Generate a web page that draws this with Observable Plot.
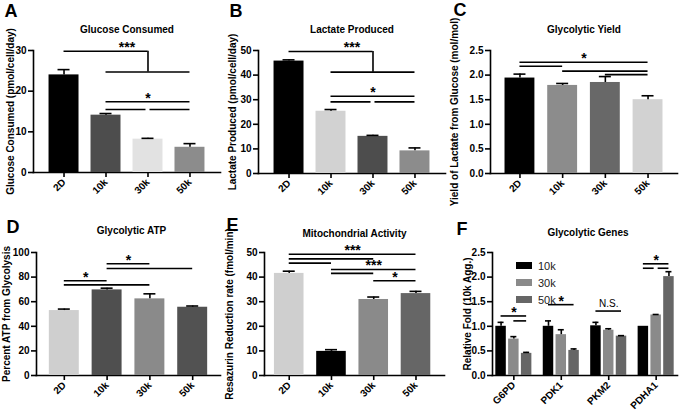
<!DOCTYPE html>
<html><head><meta charset="utf-8">
<script src="https://cdn.jsdelivr.net/npm/d3@7"></script>
<script src="https://cdn.jsdelivr.net/npm/@observablehq/plot@0.6"></script>
<style>
html,body{margin:0;padding:0;background:#fff;}
#fig{position:relative;width:680px;height:412px;overflow:hidden;font-family:"Liberation Sans",Arial,sans-serif;}
.panel{position:absolute;}
.panel svg line,.panel svg path{stroke-width:1.6px;}
#legF{position:absolute;}
#legF [class$="-swatch"]{padding-bottom:0 !important;margin:0 !important;height:17px;display:flex;align-items:center;}
#legF svg{margin-right:6px !important;}
</style></head><body><div id="fig"></div>
<script>
// ---------- data ----------
const cats = ["2D", "10k", "30k", "50k"];

// A: Glucose Consumed
const glucoseMean = [24.0, 14.1, 8.2, 6.2];
const glucoseErr  = [1.3, 0.4, 0.2, 0.9];
const glucoseLines = [["2D","30k",29.8], ["10k","50k",24.7], ["10k","50k",17.4]];
const glucoseSplits = [["10k","30k","50k",15.5]];
const glucoseDrops = [["30k",24.7,29.8]];
const glucoseStars = [["2D","50k",29.8,"***"], ["10k","50k",17.4,"*"]];
const glucoseTicks = [0,10,20,30];

// B: Lactate Produced
const lactateMean = [45.7, 25.3, 15.1, 9.2];
const lactateErr  = [0.5, 0.7, 0.4, 1.2];
const lactateLines = [["2D","30k",49.6], ["10k","50k",41.2], ["10k","50k",31.4]];
const lactateSplits = [["10k","30k","50k",29.1]];
const lactateDrops = [["30k",41.2,49.6]];
const lactateStars = [["2D","50k",49.6,"***"], ["10k","50k",31.4,"*"]];
const lactateTicks = [0,10,20,30,40,50];

// C: Glycolytic Yield
const yieldMean = [1.94, 1.79, 1.85, 1.50];
const yieldErr  = [0.08, 0.04, 0.12, 0.08];
const yieldLines = [["2D","50k",2.26], ["2D","10k",2.18], ["10k","50k",2.08], ["30k","50k",2.01]];
const yieldStars = [["2D","50k",2.26,"*"]];
const yieldTicks = [0,0.5,1.0,1.5,2.0,2.5];

// D: Glycolytic ATP
const atpMean = [52.8, 69.6, 62.3, 55.5];
const atpErr  = [1.2, 1.4, 4.1, 1.0];
const atpLines = [["10k","30k",90.8], ["10k","50k",87.0], ["2D","10k",77.0], ["2D","30k",73.7]];
const atpStars = [["10k","30k",90.8,"*"], ["2D","10k",77.0,"*"]];
const atpTicks = [0,20,40,60,80,100];

// E: Mitochondrial Activity
const mitoMean = [41.5, 9.8, 30.9, 33.3];
const mitoErr  = [0.9, 0.7, 1.0, 0.9];
const mitoLines = [["2D","50k",49.3], ["2D","30k",47.4], ["2D","10k",45.7], ["10k","50k",43.1], ["10k","30k",41.5], ["30k","50k",38.5]];
const mitoStars = [["2D","50k",49.3,"***"], ["10k","50k",43.1,"***"], ["30k","50k",38.5,"*"]];
const mitoTicks = [0,10,20,30,40,50];

// F: Glycolytic Genes
const genes = ["G6PD", "PDK1", "PKM2", "PDHA1"];
const geneSeries = ["10k", "30k", "50k"];
const fold10k = [1.00, 1.00, 1.01, 1.00];
const fold30k = [0.74, 0.83, 0.92, 1.23];
const fold50k = [0.45, 0.51, 0.80, 2.01];
const err10k  = [0.08, 0.11, 0.07, 0.00];
const err30k  = [0.05, 0.10, 0.03, 0.01];
const err50k  = [0.02, 0.03, 0.01, 0.10];
const geneLines = [["G6PD","10k","50k",1.21], ["G6PD","30k","50k",1.11], ["PDK1","10k","50k",1.44], ["PKM2","10k","50k",1.31], ["PDHA1","10k","50k",2.27]];
const geneSplits = [["PDHA1","10k","30k","50k",2.18]];
const geneStars = [["G6PD","10k","50k",1.21,"*"], ["PDK1","10k","50k",1.44,"*"], ["PKM2","10k","50k",1.31,"N.S."], ["PDHA1","10k","50k",2.27,"*"]];
const foldTicks = [0,0.5,1.0,1.5,2.0,2.5];

// ---------- styles ----------
const colorsA = ["#000000", "#4d4d4d", "#e2e2e2", "#8c8c8c"];
const colorsB = ["#000000", "#d2d2d2", "#4d4d4d", "#8c8c8c"];
const colorsC = ["#000000", "#8c8c8c", "#686868", "#d2d2d2"];
const colorsD = ["#cfcfcf", "#4f4f4f", "#8a8a8a", "#525252"];
const colorsE = ["#cfcfcf", "#000000", "#8a8a8a", "#666666"];
const colorsF = ["#000000", "#8a8a8a", "#666666"];

const FONT = '"Liberation Sans", Arial, Helvetica, sans-serif';
const CAP = 6, CAPF = 3, GAP = 2;

function starOpts(t) {
  return t === "N.S."
    ? {fontSize: 10, fontWeight: "normal", lineAnchor: "middle", dy: -7.5}
    : {fontSize: 14, fontWeight: "bold", lineAnchor: "middle", dy: -3.5};
}

function commonMarks(c) {
  return [
    Plot.text([c.title], {text: d => d, frameAnchor: "top", dy: c.titleDy, dx: c.titleDx || 0, lineAnchor: "middle", fontSize: 10}),
    Plot.text([c.letter], {text: d => d, frameAnchor: "top-left", textAnchor: "start", lineAnchor: "top", dx: c.letterDx, dy: c.letterDy, fontSize: 18}),
    Plot.text([c.ylabel], {text: d => d, frameAnchor: "left", rotate: -90, textAnchor: "middle", lineAnchor: "middle", dx: c.ylabelDx, fontSize: c.ylabelSize || 10})
  ];
}

function plotOpts(c, xDomain, marks, extra = {}) {
  return Plot.plot({
    width: c.width, height: c.height,
    marginLeft: c.ml, marginRight: c.mr, marginTop: c.mt, marginBottom: c.mb,
    style: {fontFamily: FONT, fontSize: "10px", fontWeight: "bold", overflow: "visible", background: "transparent", color: "#000"},
    x: {type: "band", domain: xDomain, paddingInner: c.pi, paddingOuter: c.po, align: c.align ?? 0.5, round: false,
        label: null, tickSize: 5, tickPadding: 3, tickRotate: -45, line: true},
    y: {domain: c.yDomain, ticks: c.yTicks, tickFormat: c.yFmt, tickSize: 5, tickPadding: 2, label: null, line: true, nice: false},
    ...extra,
    marks
  });
}

function barPanel(c) {
  const xs = d3.scaleBand(c.cats, [c.ml, c.width - c.mr]).paddingInner(c.pi).paddingOuter(c.po).align(c.align ?? 0.5);
  const bw = xs.bandwidth(), step = xs.step();
  const pos = k => c.cats.indexOf(k);
  const rows = c.cats.map((k, i) => ({cat: k, v: c.values[i], e: c.errs[i]}));
  const er = rows.filter(d => d.e > 0);
  const segs = c.lines.map(([a, b, y]) => ({a, b, y}));
  const leftParts = (c.splits || []).map(([a, m, b, y]) => ({a, b: m, y}));
  const rightParts = (c.splits || []).map(([a, m, b, y]) => ({a: m, b, y}));
  const drops = (c.drops || []).map(([at, y1, y2]) => ({at, y1, y2}));
  const marks = [
    Plot.barY(rows, {x: "cat", y: "v", fill: "cat"}),
    Plot.ruleX(er, {x: "cat", y1: "v", y2: d => d.v + d.e}),
    Plot.ruleY(er, {x1: "cat", x2: "cat", y: d => d.v + d.e, insetLeft: bw / 2 - CAP, insetRight: bw / 2 - CAP}),
    Plot.ruleY(segs, {x1: "a", x2: "b", y: "y", insetLeft: bw / 2, insetRight: bw / 2}),
    Plot.ruleY(leftParts, {x1: "a", x2: "b", y: "y", insetLeft: bw / 2, insetRight: bw / 2 + GAP}),
    Plot.ruleY(rightParts, {x1: "a", x2: "b", y: "y", insetLeft: bw / 2 + GAP, insetRight: bw / 2}),
    Plot.ruleX(drops, {x: "at", y1: "y1", y2: "y2"}),
    ...c.stars.map(([a, b, y, t]) => Plot.text([{a, y, t}], {x: "a", y: "y", text: "t", dx: (pos(b) - pos(a)) * step / 2, ...starOpts(t)})),
    ...commonMarks(c)
  ];
  return plotOpts(c, c.cats, marks, {color: {domain: c.cats, range: c.colors}});
}

function genePanel(c) {
  const xs = d3.scaleBand(c.genes, [c.ml, c.width - c.mr]).paddingInner(c.pi).paddingOuter(c.po);
  const bw = xs.bandwidth();
  const sub = d3.scaleBand(c.series, [0, bw]).paddingInner(0.18).paddingOuter(0);
  const sbw = sub.bandwidth();
  const ctr = s => sub(s) + sbw / 2;
  const marks = [];
  c.series.forEach((s, j) => {
    const rows = c.genes.map((g, i) => ({g, v: c.values[j][i], e: c.errs[j][i]}));
    const er = rows.filter(d => d.e > 0);
    marks.push(Plot.barY(rows, {x: "g", y: "v", fill: c.colors[j], insetLeft: sub(s), insetRight: bw - sub(s) - sbw}));
    marks.push(Plot.ruleX(er, {x: "g", y1: "v", y2: d => d.v + d.e, dx: ctr(s) - bw / 2}));
    marks.push(Plot.ruleY(er, {x1: "g", x2: "g", y: d => d.v + d.e, insetLeft: ctr(s) - CAPF, insetRight: bw - ctr(s) - CAPF}));
  });
  c.lines.forEach(([g, a, b, y]) => marks.push(Plot.ruleY([{g, y}], {x1: "g", x2: "g", y: "y", insetLeft: ctr(a), insetRight: bw - ctr(b)})));
  c.splits.forEach(([g, a, m, b, y]) => {
    marks.push(Plot.ruleY([{g, y}], {x1: "g", x2: "g", y: "y", insetLeft: ctr(a), insetRight: bw - ctr(m) + GAP}));
    marks.push(Plot.ruleY([{g, y}], {x1: "g", x2: "g", y: "y", insetLeft: ctr(m) + GAP, insetRight: bw - ctr(b)}));
  });
  c.stars.forEach(([g, a, b, y, t]) => marks.push(Plot.text([{g, y, t}], {x: "g", y: "y", text: "t", dx: (ctr(a) + ctr(b)) / 2 - bw / 2, ...starOpts(t)})));
  marks.push(...commonMarks(c));
  return plotOpts(c, c.genes, marks);
}

const fig = document.getElementById("fig");
function place(el, left, top) {
  const d = document.createElement("div");
  d.className = "panel";
  d.style.left = left + "px"; d.style.top = top + "px";
  d.appendChild(el); fig.appendChild(d);
}

place(barPanel({cats, values: glucoseMean, errs: glucoseErr, colors: colorsA, lines: glucoseLines, splits: glucoseSplits, drops: glucoseDrops, stars: glucoseStars,
  width: 225, height: 200, ml: 33, mr: 5, mt: 50, mb: 28, pi: 0.286, po: 0.37, yDomain: [0, 30], yTicks: glucoseTicks,
  title: "Glucose Consumed", titleDy: -21, letter: "A", letterDx: -29, letterDy: -46, ylabel: "Glucose Consumed (pmol/cell/day)", ylabelDx: -23}), 0, 0);

place(barPanel({cats, values: lactateMean, errs: lactateErr, colors: colorsB, lines: lactateLines, splits: lactateSplits, drops: lactateDrops, stars: lactateStars,
  width: 225, height: 200, ml: 33, mr: 5, mt: 50, mb: 27, pi: 0.286, po: 0.37, yDomain: [0, 50], yTicks: lactateTicks,
  title: "Lactate Produced", titleDy: -21, letter: "B", letterDx: -29, letterDy: -46, ylabel: "Lactate Produced (pmol/cell/day)", ylabelDx: -26}), 225, 0);

place(barPanel({cats, values: yieldMean, errs: yieldErr, colors: colorsC, lines: yieldLines, stars: yieldStars,
  width: 230, height: 200, ml: 40, mr: 3, mt: 50, mb: 27, pi: 0.3, po: 0.34, yDomain: [0, 2.5], yTicks: yieldTicks, yFmt: ".1f",
  title: "Glycolytic Yield", titleDy: -21, letter: "C", letterDx: -37, letterDy: -47, ylabel: "Yield of Lactate from Glucose (mol/mol)", ylabelDx: -36}), 450, 0);

place(barPanel({cats, values: atpMean, errs: atpErr, colors: colorsD, lines: atpLines, stars: atpStars,
  width: 225, height: 212, ml: 36, mr: 5, mt: 52, mb: 37, pi: 0.3, po: 0.3, yDomain: [0, 100], yTicks: atpTicks,
  title: "Glycolytic ATP", titleDy: -22, titleDx: 3, letter: "D", letterDx: -30, letterDy: -32, ylabel: "Percent ATP from Glycolysis", ylabelDx: -30}), 0, 200);

place(barPanel({cats, values: mitoMean, errs: mitoErr, colors: colorsE, lines: mitoLines, stars: mitoStars,
  width: 225, height: 212, ml: 39, mr: 6, mt: 52, mb: 37, pi: 0.3, po: 0.28, align: 0.42, yDomain: [0, 50], yTicks: mitoTicks,
  title: "Mitochondrial Activity", titleDy: -19, letter: "E", letterDx: -38, letterDy: -34, ylabel: "Resazurin Reduction rate (fmol/min)", ylabelDx: -34.5}), 225, 200);

place(genePanel({genes, series: geneSeries, values: [fold10k, fold30k, fold50k], errs: [err10k, err30k, err50k], colors: colorsF,
  lines: geneLines, splits: geneSplits, stars: geneStars,
  width: 230, height: 212, ml: 42, mr: 3, mt: 52, mb: 37, pi: 0.24, po: 0.07, yDomain: [0, 2.5], yTicks: foldTicks, yFmt: ".1f",
  title: "Glycolytic Genes", titleDy: -20, titleDx: 3, letter: "F", letterDx: -36, letterDy: -30, ylabel: "Relative Fold (10k Agg.)", ylabelDx: -25}), 450, 200);

// legend for F
const leg = Plot.legend({color: {domain: geneSeries, range: colorsF}, legend: "swatches", columns: 1, swatchWidth: 16, swatchHeight: 7,
  style: {fontFamily: FONT, fontSize: "11px", color: "#222", background: "transparent"}});
const legDiv = document.createElement("div");
legDiv.id = "legF"; legDiv.style.left = "516px"; legDiv.style.top = "257px";
legDiv.appendChild(leg); fig.appendChild(legDiv);
</script></body></html>
